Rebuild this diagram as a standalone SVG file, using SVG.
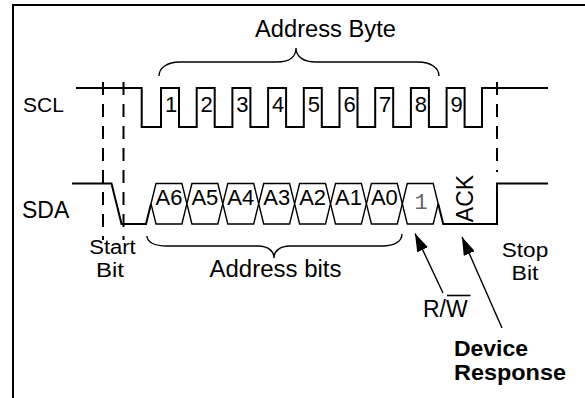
<svg xmlns="http://www.w3.org/2000/svg" width="585" height="398" viewBox="0 0 585 398">
<style>
.t{font-family:"Liberation Sans",Arial,Helvetica,sans-serif;font-size:23px;fill:#000}
.d{font-size:22px}
.s{font-size:20px}
.b{font-weight:bold;font-size:22px}
.m{font-family:"Liberation Mono","Courier New",monospace;font-size:22px;fill:#666}
.sig{fill:none;stroke:#000;stroke-width:2;stroke-linejoin:miter}
.hex{fill:#fff;stroke:#000;stroke-width:1.4}
.dash{fill:none;stroke:#000;stroke-width:2;stroke-dasharray:13 9}
.brace{fill:none;stroke:#000;stroke-width:1.4}
.arr{fill:none;stroke:#000;stroke-width:1.4;marker-end:url(#ah)}
</style>
<defs>
<marker id="ah" markerUnits="userSpaceOnUse" markerWidth="18" markerHeight="12" refX="18" refY="6" orient="auto">
<path d="M0,0 L18,6 L0,12 z" fill="#000"/>
</marker>
</defs>
<g id="frame"><path d="M13,398 V5 H585" fill="none" stroke="#000" stroke-width="2"/></g>
<g id="scl">
<text class="t" x="23" y="112" style="font-size:21px">SCL</text>
<path class="sig" d="M76,88 H141.7 V127 H161 V88 H179 V127 H196.7 V88 H214.7 V127 H232.4 V88 H250.4 V127 H268.1 V88 H286.1 V127 H303.8 V88 H321.8 V127 H339.5 V88 H357.5 V127 H375.2 V88 H393.2 V127 H410.9 V88 H428.9 V127 H446.6 V88 H464.6 V127 H482 V88 H548"/>
<g class="t d" text-anchor="middle">
<text x="171" y="112">1</text>
<text x="206.7" y="112">2</text>
<text x="242.4" y="112">3</text>
<text x="278.1" y="112">4</text>
<text x="313.8" y="112">5</text>
<text x="349.5" y="112">6</text>
<text x="385.2" y="112">7</text>
<text x="420.9" y="112">8</text>
<text x="456.6" y="112">9</text>
</g>
</g>
<g id="sda">
<text class="t" x="22" y="218">SDA</text>
<path class="sig" d="M72,183.5 H111.5 L121.5,224 H146 L151,203.75"/>
<polygon class="hex" points="151,203.75 156,183.5 181.9,183.5 186.9,203.75 181.9,224 156,224"/>
<polygon class="hex" points="186.9,203.75 191.9,183.5 217.8,183.5 222.8,203.75 217.8,224 191.9,224"/>
<polygon class="hex" points="222.8,203.75 227.8,183.5 253.7,183.5 258.7,203.75 253.7,224 227.8,224"/>
<polygon class="hex" points="258.7,203.75 263.7,183.5 289.6,183.5 294.6,203.75 289.6,224 263.7,224"/>
<polygon class="hex" points="294.6,203.75 299.6,183.5 325.5,183.5 330.5,203.75 325.5,224 299.6,224"/>
<polygon class="hex" points="330.5,203.75 335.5,183.5 361.4,183.5 366.4,203.75 361.4,224 335.5,224"/>
<polygon class="hex" points="366.4,203.75 371.4,183.5 397.3,183.5 402.3,203.75 397.3,224 371.4,224"/>
<polygon class="hex" points="402.3,203.75 407.3,183.5 433.2,183.5 438.2,203.75 433.2,224 407.3,224"/>
<path class="sig" d="M438.2,203.75 L443.2,224 H497 V183.5 H548"/>
<g class="t d" text-anchor="middle">
<text x="169" y="205">A6</text>
<text x="204.9" y="205">A5</text>
<text x="240.8" y="205">A4</text>
<text x="276.7" y="205">A3</text>
<text x="312.6" y="205">A2</text>
<text x="348.5" y="205">A1</text>
<text x="384.4" y="205">A0</text>
</g>
<text class="m" x="421" y="209" text-anchor="middle">1</text>
<text class="t" text-anchor="middle" transform="translate(473,198.5) rotate(-90)">ACK</text>
</g>
<g id="markers">
<line class="dash" x1="103" y1="82" x2="103" y2="240"/>
<line class="dash" x1="123.5" y1="82" x2="123.5" y2="240"/>
<line class="dash" x1="497" y1="82" x2="497" y2="172"/>
<text class="t s" x="112.5" y="254" text-anchor="middle" textLength="46.5" lengthAdjust="spacingAndGlyphs">Start</text>
<text class="t s" x="110" y="277" text-anchor="middle" textLength="28" lengthAdjust="spacingAndGlyphs">Bit</text>
<text class="t s" x="525" y="257" text-anchor="middle" textLength="46.5" lengthAdjust="spacingAndGlyphs">Stop</text>
<text class="t s" x="525" y="280" text-anchor="middle" textLength="27" lengthAdjust="spacingAndGlyphs">Bit</text>
</g>
<g id="braces">
<path class="brace" d="M159,76 C159,68 167,62 180,62 L277,62 C289,62 296,57 296,48 C296,57 304,62 316,62 L418,62 C431,62 439,68 439,76"/>
<text class="t" x="325.5" y="37" text-anchor="middle" textLength="141" lengthAdjust="spacingAndGlyphs">Address Byte</text>
<path class="brace" d="M147,236 C147,242 154,246 167,246 L258,246 C268,246 274,251 274,258 C274,251 280,246 290,246 L382,246 C395,246 402,241 402,234"/>
<text class="t" x="275.5" y="277" text-anchor="middle" textLength="132" lengthAdjust="spacingAndGlyphs">Address bits</text>
</g>
<g id="connectors">
<line class="arr" x1="443" y1="293" x2="415" y2="233.5"/>
<line class="arr" x1="502" y1="328" x2="462" y2="237"/>
</g>
<g id="labels">
<text class="t" x="423" y="317">R/W</text>
<line x1="447" y1="295.5" x2="470.5" y2="295.5" stroke="#000" stroke-width="1.6"/>
<text class="t b" x="454" y="356" textLength="74" lengthAdjust="spacingAndGlyphs">Device</text>
<text class="t b" x="454" y="380" textLength="112" lengthAdjust="spacingAndGlyphs">Response</text>
</g>
</svg>
